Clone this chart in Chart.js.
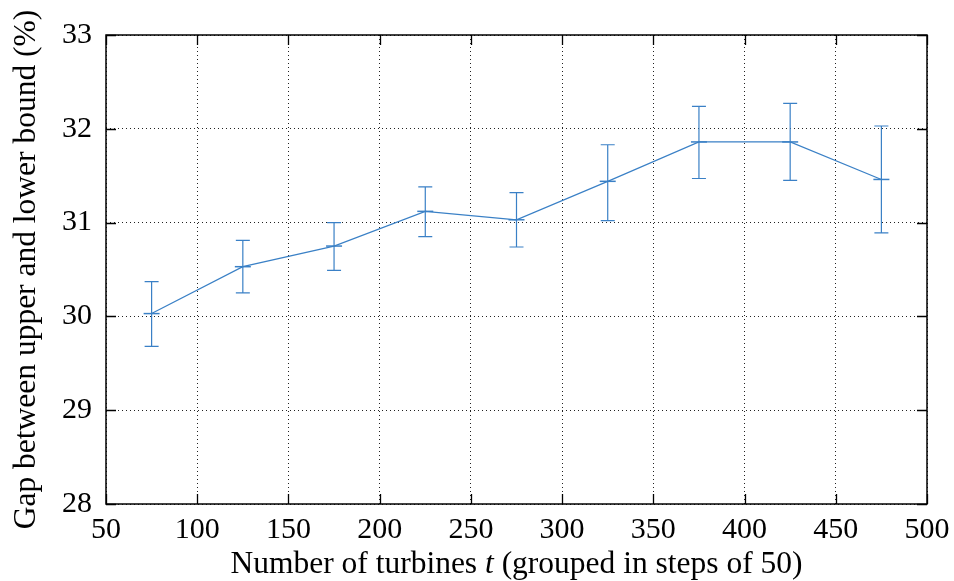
<!DOCTYPE html>
<html>
<head>
<meta charset="utf-8">
<script src="https://cdn.jsdelivr.net/npm/chart.js@4/dist/chart.umd.min.js"></script>
<style>
html,body{margin:0;padding:0;background:#fff;}
canvas{display:block;}
</style>
</head>
<body>
<canvas id="c" width="954" height="581"></canvas>
<script>
const turbines = [75, 125, 175, 225, 275, 325, 375, 425, 475];
const gapMean  = [30.03, 30.53, 30.75, 31.12, 31.03, 31.44, 31.86, 31.86, 31.46];
const gapLow   = [29.68, 30.25, 30.49, 30.85, 30.74, 31.02, 31.47, 31.45, 30.89];
const gapHigh  = [30.37, 30.81, 31.00, 31.38, 31.32, 31.83, 32.24, 32.27, 32.03];
const xTicks = [50, 100, 150, 200, 250, 300, 350, 400, 450, 500];
const yTicks = [28, 29, 30, 31, 32, 33];
const xTitleParts = [['Number of turbines ', false], ['t', true], [' (grouped in steps of 50)', false]];
const yTitle = 'Gap between upper and lower bound (%)';

const COLOR = '#3a80c6';
const FONT = '"Liberation Serif", "DejaVu Serif", serif';
const FS = 30;
const FST = 31.5;

const errorBars = {
  id: 'errorBars',
  afterDatasetsDraw(chart) {
    const {ctx, scales: {x, y}} = chart;
    ctx.save();
    ctx.strokeStyle = COLOR;
    ctx.lineWidth = 1.2;
    for (let i = 0; i < turbines.length; i++) {
      const px = x.getPixelForValue(turbines[i]);
      const yl = y.getPixelForValue(gapLow[i]);
      const yh = y.getPixelForValue(gapHigh[i]);
      ctx.beginPath();
      ctx.moveTo(px, yl); ctx.lineTo(px, yh);
      ctx.moveTo(px - 7, yl); ctx.lineTo(px + 7, yl);
      ctx.moveTo(px - 7, yh); ctx.lineTo(px + 7, yh);
      ctx.stroke();
    }
    ctx.restore();
  }
};

const frame = {
  id: 'frame',
  afterDraw(chart) {
    const {ctx, chartArea: a, scales: {x, y}} = chart;
    ctx.save();
    ctx.strokeStyle = '#000';
    ctx.lineWidth = 1.3;
    ctx.beginPath();
    yTicks.forEach(v => {
      const py = Math.round(y.getPixelForValue(v)) + 0.5;
      ctx.moveTo(a.left, py); ctx.lineTo(a.left + 10, py);
      ctx.moveTo(a.right, py); ctx.lineTo(a.right - 10, py);
    });
    xTicks.forEach(v => {
      const px = Math.round(x.getPixelForValue(v)) + 0.5;
      ctx.moveTo(px, a.bottom); ctx.lineTo(px, a.bottom - 10);
      ctx.moveTo(px, a.top); ctx.lineTo(px, a.top + 10);
    });
    ctx.stroke();
    ctx.lineWidth = 1.5;
    ctx.strokeRect(a.left, a.top, a.right - a.left, a.bottom - a.top);

    // x-axis title with italic t
    ctx.fillStyle = '#000';
    ctx.textBaseline = 'alphabetic';
    ctx.textAlign = 'left';
    const fonts = it => (it ? 'italic ' : '') + FST + 'px ' + FONT;
    let total = 0;
    xTitleParts.forEach(([s, it]) => { ctx.font = fonts(it); total += ctx.measureText(s).width; });
    let cx = (a.left + a.right) / 2 - total / 2;
    xTitleParts.forEach(([s, it]) => { ctx.font = fonts(it); ctx.fillText(s, cx, 573); cx += ctx.measureText(s).width; });
    ctx.restore();
  }
};

new Chart(document.getElementById('c'), {
  type: 'line',
  data: {
    datasets: [{
      data: turbines.map((t, i) => ({x: t, y: gapMean[i]})),
      borderColor: COLOR,
      backgroundColor: COLOR,
      borderWidth: 1.2,
      pointStyle: 'line',
      pointRadius: 8,
      pointBorderWidth: 1.5,
      pointBorderColor: COLOR,
      tension: 0,
      fill: false
    }]
  },
  options: {
    responsive: false,
    animation: false,
    devicePixelRatio: 1,
    layout: {padding: {top: 35, right: 27, left: 0, bottom: 0}},
    plugins: {legend: {display: false}, tooltip: {enabled: false}},
    scales: {
      x: {
        type: 'linear',
        min: 50, max: 500,
        afterBuildTicks: s => { s.ticks = xTicks.map(v => ({value: v})); },
        afterFit: s => { s.height = 77; s.paddingRight = 0; s.paddingLeft = 0; },
        grid: {color: '#222', lineWidth: 1, drawTicks: false},
        border: {display: false, dash: [1, 3]},
        ticks: {color: '#000', font: {family: FONT, size: FS}, padding: 8, maxRotation: 0},
        title: {display: false}
      },
      y: {
        min: 28, max: 33,
        afterBuildTicks: s => { s.ticks = yTicks.map(v => ({value: v})); },
        afterFit: s => { s.width = 106; s.paddingTop = 0; s.paddingBottom = 0; },
        grid: {color: '#222', lineWidth: 1, drawTicks: false},
        border: {display: false, dash: [1, 3]},
        ticks: {color: '#000', font: {family: FONT, size: FS}, padding: 14},
        title: {display: true, text: yTitle, color: '#000', font: {family: FONT, size: FST}, padding: {top: 8, bottom: 4}}
      }
    }
  },
  plugins: [errorBars, frame]
});
</script>
</body>
</html>
